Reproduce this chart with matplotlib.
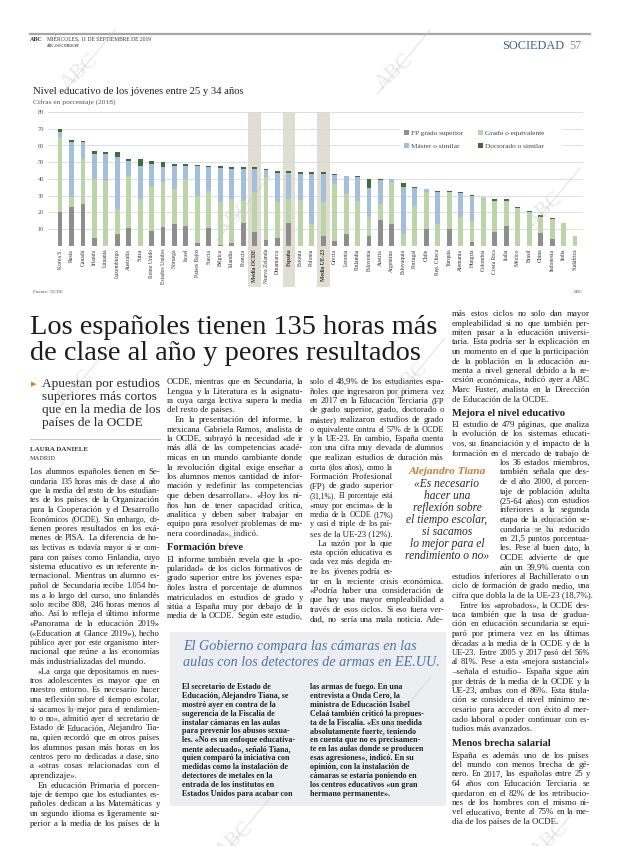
import matplotlib
matplotlib.use("Agg")
import matplotlib.pyplot as plt
from matplotlib.patches import Rectangle
from matplotlib.font_manager import FontProperties
from matplotlib import transforms
import numpy as np

W, H = 620, 846
SERIF = "Liberation Serif"

# === datos del gráfico (porcentaje, 2018) ===
paises = ["Korea S.", "Rusia", "Canadá", "Irlanda", "Lituania", "Luxemburgo",
          "Australia", "Suiza", "Reino Unido", "Estados Unidos", "Noruega",
          "Israel", "Países Bajos", "Suecia", "Bélgica", "Islandia", "Francia",
          "Media OCDE", "Nueva Zelanda", "Dinamarca", "España", "Estonia",
          "Polonia", "Media UE-23", "Grecia", "Letonia", "Finlandia",
          "Eslovenia", "Austria", "Argentina", "Eslovaquia", "Portugal",
          "Chile", "Rep. Checa", "Turquía", "Alemania", "Hungría", "Colombia",
          "Costa Rica", "Italia", "México", "Brasil", "China", "Indonesia",
          "India", "Sudáfrica"]
fp = [20, 23, 25, 5, 0, 7, 11, 0, 9, 11.5,
      13, 12, 2, 10.5, 0.5, 2, 14, 8.5, 3.5, 4.5,
      13.5, 0, 0, 6, 3, 7, 0, 6, 15.5, 13,
      0, 0, 10, 0, 10, 0, 2.5, 0, 8.5, 12,
      0, 0, 8, 4, 0, 0]
grado = [45, 6, 27, 35, 39, 15, 31, 28, 27, 26.5,
         21, 28, 28, 22.5, 25.5, 26, 13, 23.5, 37.5, 22,
         14.5, 27.5, 13, 20, 34, 24, 27, 11.5, 9.5, 25,
         7, 24, 22, 13, 22.5, 17.5, 12.5, 29, 18.5, 15,
         22.5, 20, 9.5, 12, 14, 6]
master = [3, 33, 10, 15, 16, 31, 9, 20, 13, 9,
          14, 8, 17.5, 14, 20.5, 18, 19, 14, 4.5, 17,
          15.5, 15.5, 30, 17, 5.5, 10.5, 14, 17, 14.5, 2,
          28.5, 10.5, 2, 19.5, 0, 14, 15, 0, 0, 0,
          0, 0, 0, 0, 0, 0]
doctorado = [2, 1, 0.5, 2, 1, 3, 1, 4, 2, 3,
             1, 1, 1, 1, 1, 1, 1, 1, 0.5, 1,
             1, 1, 1, 1, 0.5, 0.5, 0.5, 5.5, 0.5, 0,
             2, 0.5, 0, 0.5, 0.5, 1, 0.5, 0, 1, 1,
             1, 1, 1, 1, 0, 0]
series = ["FP grado superior", "Grado o equivalente", "Máster o similar", "Doctorado o similar"]
destacados = ["Media OCDE", "España", "Media UE-23"]
yticks = [10, 20, 30, 40, 50, 60, 70, 80]

# === textos del artículo ===
titular = ["Los españoles tienen 135 horas más", "de clase al año y peores resultados"]
entradilla = ["Apuestan por estudios", "superiores más cortos", "que en la media de los", "países de la OCDE"]

col1 = [
    "Los alumnos españoles tienen en Se-",
    "cundaria 135 horas más de clase al año",
    "que la media del resto de los estudian-",
    "tes de los países de la Organización",
    "para la Cooperación y el Desarrollo",
    "Económicos (OCDE). Sin embargo, ob-",
    "tienen peores resultados en los exá-",
    "menes de PISA. La diferencia de ho-",
    "ras lectivas es todavía mayor si se com-",
    "para con países como Finlandia, cuyo",
    "sistema educativo es un referente in-",
    "ternacional. Mientras un alumno es-",
    "pañol de Secundaria recibe 1.054 ho-",
    "ras a lo largo del curso, uno finlandés",
    "solo recibe 808, 246 horas menos al",
    "año. Así lo refleja el último informe",
    "«Panorama de la educación 2019»",
    "(«Education at Glance 2019»), hecho",
    "público ayer por este organismo inter-",
    "nacional que reúne a las economías",
    "más industrializadas del mundo.#",
    ">«La carga que depositamos en nues-",
    "tros adolescentes es mayor que en",
    "nuestro entorno. Es necesario hacer",
    "una reflexión sobre el tiempo escolar,",
    "si sacamos lo mejor para el rendimien-",
    "to o no», admitió ayer el secretario de",
    "Estado de Educación, Alejandro Tia-",
    "na, quien recordó que en otros países",
    "los alumnos pasan más horas en los",
    "centros pero no dedicadas a clase, sino",
    "a «otras cosas relacionadas con el",
    "aprendizaje».#",
    ">En educación Primaria el porcen-",
    "taje de tiempo que los estudiantes es-",
    "pañoles dedican a las Matemáticas y",
    "un segundo idioma es ligeramente su-",
    "perior a la media de los países de la",
]
col2a = [
    "OCDE, mientras que en Secundaria, la",
    "Lengua y la Literatura es la asignatu-",
    "ra cuya carga lectiva supera la media",
    "del resto de países.#",
    ">En la presentación del informe, la",
    "mexicana Gabriela Ramos, analista de",
    "la OCDE, subrayó la necesidad «de ir",
    "más allá de las competencias acadé-",
    "micas en un mundo cambiante donde",
    "la revolución digital exige enseñar a",
    "los alumnos menos cantidad de infor-",
    "mación y redefinir las competencias",
    "que deben desarrollar». «Hoy los ni-",
    "ños han de tener capacidad crítica,",
    "analítica y deben saber trabajar en",
    "equipo para resolver problemas de ma-",
    "nera coordinada», indicó.#",
]
col2b = [
    "El informe también revela que la «po-",
    "pularidad» de los ciclos formativos de",
    "grado superior entre los jóvenes espa-",
    "ñoles lastra el porcentaje de alumnos",
    "matriculados en estudios de grado y",
    "sitúa a España muy por debajo de la",
    "media de la OCDE. Según este estudio,",
]
col3a = [
    "solo el 48,9% de los estudiantes espa-",
    "ñoles que ingresaron por primera vez",
    "en 2017 en la Educación Terciaria (FP",
    "de grado superior, grado, doctorado o",
    "máster) realizaron estudios de grado",
    "o equivalente contra el 57% de la OCDE",
    "y la UE-23. En cambio, España cuenta",
    "con una cifra muy elevada de alumnos",
    "que realizan estudios de duración más",
]
col3b = [
    "corta (dos años), como la",
    "Formación Profesional",
    "(FP) de grado superior",
    "(31,1%). El porcentaje está",
    "«muy por encima» de la",
    "media de la OCDE (17%)",
    "y casi el triple de los paí-",
    "ses de la UE-23 (12%).#",
    ">La razón por la que",
    "esta opción educativa es",
    "cada vez más elegida en-",
    "tre los jóvenes podría es-",
]
col3c = [
    "tar en la reciente crisis económica.",
    "«Podría haber una consideración de",
    "que hay una mayor empleabilidad a",
    "través de esos ciclos. Si eso fuera ver-",
    "dad, no sería una mala noticia. Ade-",
]
cita = ["«Es necesario", "hacer una", "reflexión sobre", "el tiempo escolar,",
        "si sacamos", "lo mejor para el", "rendimiento o no»"]
col4a = [
    "más estos ciclos no solo dan mayor",
    "empleabilidad si no que también per-",
    "miten pasar a la educación universi-",
    "taria. Esta podría ser la explicación en",
    "un momento en el que la participación",
    "de la población en la educación au-",
    "menta a nivel general debido a la re-",
    "cesión económica», indicó ayer a ABC",
    "Marc Fuster, analista en la Dirección",
    "de Educación de la OCDE.#",
]
col4b = [
    "El estudio de 479 páginas, que analiza",
    "la evolución de los sistemas educati-",
    "vos, su financiación y el impacto de la",
    "formación en el mercado de trabajo de",
]
col4c = [
    "los 36 estados miembros,",
    "también señala que des-",
    "de el año 2000, el porcen-",
    "taje de población adulta",
    "(25-64 años) con estudios",
    "inferiores a la segunda",
    "etapa de la educación se-",
    "cundaria se ha reducido",
    "en 21,5 puntos porcentua-",
    "les. Pese al buen dato, la",
    "OCDE advierte de que",
    "aún un 39,9% cuenta con",
]
col4d = [
    "estudios inferiores al Bachillerato o un",
    "ciclo de formación de grado medio, una",
    "cifra que dobla la de la UE-23 (18,7%).#",
    ">Entre los «aprobados», la OCDE des-",
    "taca también que la tasa de gradua-",
    "ción en educación secundaria se equi-",
    "paró por primera vez en las últimas",
    "décadas a la media de la OCDE y de la",
    "UE-23. Entre 2005 y 2017 pasó del 56%",
    "al 81%. Pese a esta «mejora sustancial»",
    "–señala el estudio– España sigue aún",
    "por detrás de la media de la OCDE y la",
    "UE-23, ambas con el 86%. Esta titula-",
    "ción se considera el nivel mínimo ne-",
    "cesario para acceder con éxito al mer-",
    "cado laboral o poder continuar con es-",
    "tudios más avanzados.#",
]
col4e = [
    "España es además uno de los países",
    "del mundo con menos brecha de gé-",
    "nero. En 2017, las españolas entre 25 y",
    "64 años con Educación Terciaria se",
    "quedaron en el 82% de los retribucio-",
    "nes de los hombres con el mismo ni-",
    "vel educativo, frente al 75% en la me-",
    "dia de los países de la OCDE.#",
]
despiece_titulo = ["El Gobierno compara las cámaras en las",
                   "aulas con los detectores de armas en EE.UU."]
despiece_izq = [
    "El secretario de Estado de",
    "Educación, Alejandro Tiana, se",
    "mostró ayer en contra de la",
    "sugerencia de la Fiscalía de",
    "instalar cámaras en las aulas",
    "para prevenir los abusos sexua-",
    "les. «No es un enfoque educativa-",
    "mente adecuado», señaló Tiana,",
    "quien comparó la iniciativa con",
    "medidas como la instalación de",
    "detectores de metales en la",
    "entrada de los institutos en",
    "Estados Unidos para acabar con",
]
despiece_der = [
    "las armas de fuego. En una",
    "entrevista a Onda Cero, la",
    "ministra de Educación Isabel",
    "Celaá también criticó la propues-",
    "ta de la Fiscalía. «Es una medida",
    "absolutamente fuerte, teniendo",
    "en cuenta que no es precisamen-",
    "te en las aulas donde se producen",
    "esas agresiones», indicó. En su",
    "opinión, con la instalación de",
    "cámaras se estaría poniendo en",
    "los centros educativos «un gran",
    "hermano permanente».",
]

# === figura: una capa en píxeles para la página ===
fig = plt.figure(figsize=(6.2, 8.46), dpi=100)
lay = fig.add_axes([0, 0, 1, 1])
lay.set_xlim(0, W)
lay.set_ylim(H, 0)
lay.axis("off")
renderer = fig.canvas.get_renderer()

TXT = "#1f1f1f"
CUERPO = 6.4   # talla base del texto corrido
LEAD = 9.5


def medir(s, prop):
    w, h, d = renderer.get_text_width_height_descent(s, prop, ismath=False)
    return w


def tam(texto, ancho, **kw):
    p = FontProperties(family=SERIF, size=10, **kw)
    return 10 * ancho / medir(texto, p)


def columna(x0, x1, y, lineas, size=CUERPO, lead=LEAD, weight="normal", justify=True, color=TXT):
    for ln in lineas:
        ragged = ln.endswith("#") or not justify
        txt = ln.rstrip("#")
        xs = x0
        if txt.startswith(">"):
            txt = txt[1:]
            xs = x0 + 8
        palabras = txt.split(" ")
        # cada línea con la talla que la deja justa, sin pasar de la base
        s = min(size, tam(txt, x1 - xs, weight=weight) * 0.985)
        if ragged:
            s = size
        prop = FontProperties(family=SERIF, size=s, weight=weight)
        if ragged or len(palabras) == 1:
            lay.text(xs, y, txt, fontproperties=prop, color=color, va="baseline", ha="left")
        else:
            anchos = [medir(p, prop) for p in palabras]
            hueco = (x1 - xs - sum(anchos)) / (len(palabras) - 1)
            x = xs
            for p, a in zip(palabras, anchos):
                lay.text(x, y, p, fontproperties=prop, color=color, va="baseline", ha="left")
                x += a + hueco
        y += lead
    return y


# === cabecera ===
lay.plot([30, 590], [34, 34], color="#a8a8a8", lw=1.6)
lay.text(30, 41, "ABC", family=SERIF, weight="bold", size=4.3, color="#333", va="baseline")
lay.text(47, 41, "MIÉRCOLES, 11 DE SEPTIEMBRE DE 2019", family=SERIF, size=4.0, color="#333", va="baseline")
lay.text(47, 47, "abc.es/conocer", family=SERIF, size=4.0, color="#333", va="baseline")
lay.text(564, 49, "SOCIEDAD", family=SERIF, size=8.8, color="#41617f", va="baseline", ha="right")
lay.text(569, 49, "57", family=SERIF, size=8.8, color="#9c8a72", va="baseline", ha="left")

# === gráfico ===
lay.text(33, 94, "Nivel educativo de los jóvenes entre 25 y 34 años", family=SERIF,
         size=tam("Nivel educativo de los jóvenes entre 25 y 34 años", 212), color="#222", va="baseline")
lay.text(33, 104, "Cifras en porcentaje (2018)", family=SERIF,
         size=tam("Cifras en porcentaje (2018)", 82), color="#555", va="baseline")

ax = fig.add_axes([48 / W, 1 - 246 / H, (583 - 48) / W, (246 - 112) / H])
ax.set_facecolor("none")
x = np.arange(len(paises))
colores = ["#8e8e8e", "#bcd5a8", "#a3bfdc", "#3f6e3c"]
base = np.zeros(len(paises))
for vals, col in zip([fp, grado, master, doctorado], colores):
    ax.bar(x, vals, bottom=base, width=0.42, color=col, linewidth=0, zorder=3)
    base += np.array(vals)
ax.set_xlim(-1.05, 45.7)
ax.set_ylim(0, 80)
ax.set_yticks(yticks)
ax.yaxis.grid(True, color="#d9d9d9", lw=0.6)
ax.set_axisbelow(True)
for s in ax.spines.values():
    s.set_visible(False)
ax.axhline(0, color="#9a9a9a", lw=0.7, zorder=4)
ax.tick_params(axis="y", length=0, labelsize=4.6, labelcolor="#555", pad=3)
for lab in ax.get_yticklabels():
    lab.set_fontfamily(SERIF)
ax.set_xticks(x)
ax.set_xticklabels(paises, rotation=90, fontsize=4.1, fontfamily=SERIF, color="#333",
                   va="top", ha="center")
ax.tick_params(axis="x", length=0, pad=2)
for lab in ax.get_xticklabels():
    if lab.get_text() in destacados:
        lab.set_fontweight("bold")

banda = transforms.blended_transform_factory(ax.transData, ax.transAxes)
for i, p in enumerate(paises):
    if p in destacados:
        ax.add_patch(Rectangle((i - 0.55, -0.305), 1.1, 1.305, transform=banda,
                               color="#e2ddd3", zorder=0.2, clip_on=False, lw=0))

# leyenda
ax.add_patch(Rectangle((400, 125), 162, 27, transform=lay.transData, color="white",
                       zorder=5, clip_on=False, lw=0))
pos_ley = [(406, 133), (480, 133), (406, 146), (480, 146)]
for (lx, ly), k in zip(pos_ley, range(4)):
    ax.add_patch(Rectangle((lx - 2.5, ly - 2.5), 5, 5, transform=lay.transData,
                           color=colores[k], zorder=6, clip_on=False, lw=0))
    ax.text(lx + 5, ly, series[k], transform=lay.transData, family=SERIF, size=5.2,
            color="#444", va="center", ha="left", zorder=6)

lay.text(33, 293, "Fuente: OCDE", family=SERIF, size=3.6, color="#555", va="baseline")
lay.text(583, 293, "ABC", family=SERIF, size=3.6, color="#555", va="baseline", ha="right")

# === titular ===
s_tit = tam(titular[0], 408)
lay.text(30, 334, titular[0], family=SERIF, size=s_tit, color="#1c1c1c", va="baseline")
lay.text(30, 360, titular[1], family=SERIF, size=s_tit, color="#1c1c1c", va="baseline")

# === entradilla y firma ===
s_ent = tam(entradilla[0], 118)
lay.text(31, 387, "\u25b8", family="DejaVu Sans", size=s_ent * 0.8, color="#e07a2c", va="baseline")
for k, ln in enumerate(entradilla):
    lay.text(42, 387 + 13 * k, ln, family=SERIF, size=s_ent, color="#2a2a2a", va="baseline")
lay.plot([30, 160], [439, 439], color="#bbbbbb", lw=0.6)
lay.text(30, 451, "LAURA DANIELE", family=SERIF, weight="bold", size=5.0, color="#333", va="baseline")
lay.text(30, 460, "MADRID", family=SERIF, size=4.6, color="#333", va="baseline")

# === columnas ===
columna(30, 160, 474, col1)
y = columna(167, 303, 384, col2a)
lay.text(167, y + 5, "Formación breve", family=SERIF, weight="bold", size=7.6, color="#222", va="baseline")
columna(167, 303, y + 16, col2b)

y = columna(310, 444, 384, col3a)
y = columna(310, 393, y, col3b)
columna(310, 444, y, col3c)

# cita destacada
lay.text(447, 474, "Alejandro Tiana", family=SERIF, style="italic", weight="bold",
         size=8.2, color="#c4813e", va="baseline", ha="center")
for k, ln in enumerate(cita):
    lay.text(447, 487 + 12 * k, ln, family=SERIF, style="italic", size=8.3, color="#2a2a2a",
             va="baseline", ha="center")

y = columna(452, 590, 316, col4a)
lay.text(452, y + 5, "Mejora el nivel educativo", family=SERIF, weight="bold", size=7.6, color="#222", va="baseline")
y = columna(452, 590, y + 16, col4b)
y = columna(500, 590, y, col4c)
y = columna(452, 590, y, col4d)
lay.text(452, y + 6, "Menos brecha salarial", family=SERIF, weight="bold", size=7.6, color="#222", va="baseline")
columna(452, 590, y + 17, col4e)

# === despiece ===
lay.add_patch(Rectangle((170, 632), 276, 174, color="#eceef1", lw=0, zorder=0))
s_box = tam(despiece_titulo[1], 256, style="italic")
for k, ln in enumerate(despiece_titulo):
    lay.text(183, 650 + 16 * k, ln, family=SERIF, style="italic", size=s_box, color="#4f73a3", va="baseline")
columna(182, 300, 689, despiece_izq, size=5.8, lead=8.9, weight="bold", justify=False, color="#222")
columna(310, 440, 689, despiece_der, size=5.8, lead=8.9, weight="bold", justify=False, color="#222")

# === marcas de agua ===
top = fig.add_axes([0, 0, 1, 1])
top.set_xlim(0, W)
top.set_ylim(H, 0)
top.axis("off")
marcas = [(80, 72), (395, 72), (235, 218), (545, 210), (75, 388), (410, 380),
          (240, 528), (550, 525), (70, 715), (395, 720), (235, 840), (550, 840)]
for mx, my in marcas:
    top.plot([mx - 18, mx + 35], [my + 22, my - 42], color="#c4c4c4", lw=0.6, alpha=0.6)
    top.text(mx, my, "ABC", family=SERIF, size=15, color="#cdcdcd", alpha=0.45,
             rotation=42, ha="center", va="center")

fig.savefig("out.png", dpi=100)
